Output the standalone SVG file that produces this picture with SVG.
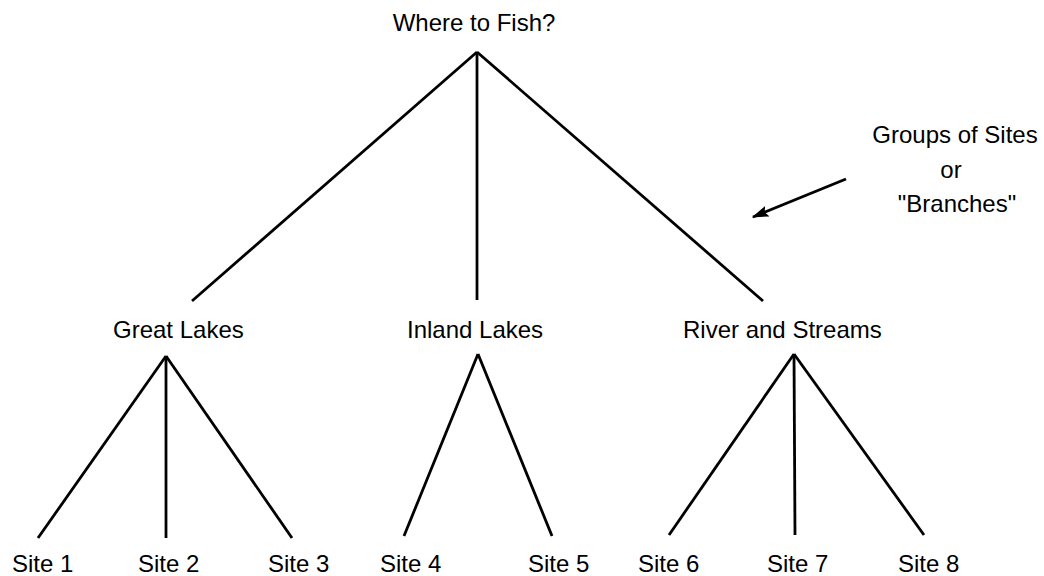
<svg xmlns="http://www.w3.org/2000/svg" width="1044" height="576" viewBox="0 0 1044 576">
<defs>
<style>
text{font-family:"Liberation Sans",Arial,sans-serif;font-size:24px;fill:#000}
.c line{stroke:#000;stroke-width:2.8;stroke-linecap:butt}
.m{text-anchor:middle}
</style>
<marker id="ah" viewBox="0 0 12 8" refX="11" refY="4" markerWidth="6" markerHeight="4" orient="auto" markerUnits="strokeWidth">
<path d="M0,0 L12,4 L0,8 L2,4 z" fill="#000"/>
</marker>
</defs>
<rect width="1044" height="576" fill="#fff"/>
<g id="connectors" class="c">
<line x1="477" y1="52" x2="192" y2="301"/>
<line x1="477" y1="52" x2="477" y2="300"/>
<line x1="477" y1="52" x2="763" y2="301"/>
<line x1="166" y1="356" x2="38" y2="538"/>
<line x1="166" y1="356" x2="166" y2="538"/>
<line x1="166" y1="356" x2="292" y2="538"/>
<line x1="478" y1="354" x2="404" y2="536"/>
<line x1="478" y1="354" x2="552" y2="536"/>
<line x1="794" y1="354" x2="669" y2="535"/>
<line x1="794" y1="354" x2="795" y2="535"/>
<line x1="794" y1="354" x2="924" y2="535"/>
<line x1="846" y1="179" x2="753" y2="217" marker-end="url(#ah)"/>
</g>
<g id="root"><text x="474" y="31" class="m">Where to Fish?</text></g>
<g id="great-lakes"><text x="113" y="338">Great Lakes</text></g>
<g id="inland-lakes"><text x="407" y="338">Inland Lakes</text></g>
<g id="rivers"><text x="683" y="338">River and Streams</text></g>
<g id="site1"><text x="12" y="572">Site 1</text></g>
<g id="site2"><text x="138" y="572">Site 2</text></g>
<g id="site3"><text x="268" y="572">Site 3</text></g>
<g id="site4"><text x="380" y="572">Site 4</text></g>
<g id="site5"><text x="528" y="572">Site 5</text></g>
<g id="site6"><text x="638" y="572">Site 6</text></g>
<g id="site7"><text x="767" y="572">Site 7</text></g>
<g id="site8"><text x="898" y="572">Site 8</text></g>
<g id="note">
<text x="955" y="143" class="m">Groups of Sites</text>
<text x="951" y="178" class="m">or</text>
<text x="957" y="212" class="m">"Branches"</text>
</g>
</svg>
